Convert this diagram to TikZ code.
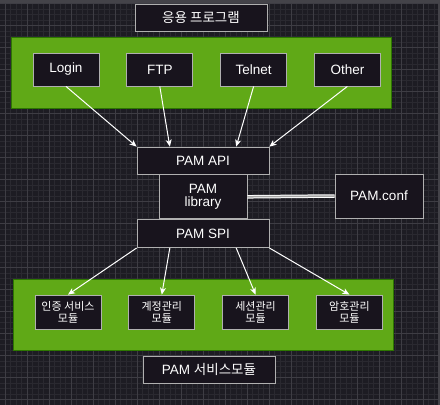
\documentclass[tikz,border=0pt]{standalone}
\usepackage{fontspec}
\setmainfont{Liberation Sans}
\newfontfamily\kr{Noto Sans CJK KR}
\usepackage{tikz}
\usetikzlibrary{positioning,calc,arrows.meta}

\definecolor{bgdark}{HTML}{1D1C23}
\definecolor{boxdark}{HTML}{18141D}
\definecolor{gridminor}{HTML}{2A2930}
\definecolor{gridmajor}{HTML}{3E3D44}
\definecolor{appgreen}{HTML}{60A917}
\definecolor{appgreenline}{HTML}{2D7600}
\definecolor{boxline}{HTML}{B0B0B0}

\begin{document}
\begin{tikzpicture}[
    x=1pt, y=-1pt,
    node distance=27pt,
    box/.style={rectangle, draw=boxline, line width=0.8pt, fill=boxdark, text=white, inner sep=0pt, align=center, font=\fontsize{13.5}{14.5}\selectfont},
    appbox/.style={box, minimum width=66pt, minimum height=33pt},
    modbox/.style={box, minimum width=66pt, minimum height=34pt, font=\kr\fontsize{11}{12}\selectfont},
    group/.style={rectangle, draw=appgreenline, line width=0.8pt, fill=appgreen, inner sep=0pt},
    arrow/.style={-{Stealth[length=7pt, width=6pt, inset=2pt]}, draw=white, line width=1pt}
]
\useasboundingbox (0,0) rectangle (440,405);

% Background and grid
\fill[bgdark] (0,0) rectangle (440,405);
\foreach \i in {0,...,80} {
  \draw[gridminor, line width=0.4pt] (-0.5+5.5*\i,3) -- (-0.5+5.5*\i,405);
}
\foreach \i in {0,...,73} {
  \draw[gridminor, line width=0.4pt] (0,3.5+5.5*\i) -- (438,3.5+5.5*\i);
}
\foreach \i in {0,...,19} {
  \draw[gridmajor, line width=0.5pt] (5+22*\i,3) -- (5+22*\i,405);
}
\foreach \i in {0,...,18} {
  \draw[gridmajor, line width=0.5pt] (0,3+22*\i) -- (438,3+22*\i);
}
\fill[gridminor!80!white!70!bgdark] (0,0) rectangle (440,3);
\fill[gridminor!80!white!70!bgdark] (438,0) rectangle (440,405);

% Top - application programs
\node[box, minimum width=132pt, minimum height=27pt, font=\kr\fontsize{13.5}{14.5}\selectfont] (apptitle) at (201,17.5) {응용 프로그램};
\node[group, minimum width=380pt, minimum height=71pt] (apps) at (201,72.5) {};

\node[appbox] (login) at (66,69.5) {Login};
\node[appbox, right=of login] (ftp) {FTP};
\node[appbox, right=of ftp] (telnet) {Telnet};
\node[appbox, right=of telnet] (other) {Other};

% Middle - PAM stack
\node[box, minimum width=132pt, minimum height=27pt] (api) at (203,160.5) {PAM API};
\node[box, minimum width=88pt, minimum height=44pt, below=0pt of api, font=\fontsize{13.5}{14}\selectfont] (library) {PAM\\[-1pt]library};
\node[box, minimum width=132pt, minimum height=28pt, below=0pt of library] (spi) {PAM SPI};
\node[box, minimum width=88pt, minimum height=44pt] (conf) at (379,196) {PAM.conf};

% Bottom - service modules
\node[group, minimum width=380pt, minimum height=71pt] (modules) at (203,314.5) {};

\node[modbox] (auth) at (68,312) {인증 서비스\\모듈};
\node[modbox, right=of auth] (account) {계정관리\\모듈};
\node[modbox, right=of account] (session) {세션관리\\모듈};
\node[modbox, right=of session] (password) {암호관리\\모듈};

\node[box, minimum width=132pt, minimum height=27pt] (modtitle) at (209,369.5) {PAM {\kr 서비스모듈}};

% Connections
\draw[arrow] (login.south) -- (api.north west);
\draw[arrow] (ftp.south) -- ($(api.north west)!0.25!(api.north east)$);
\draw[arrow] (telnet.south) -- ($(api.north west)!0.75!(api.north east)$);
\draw[arrow] (other.south) -- (api.north east);

\draw[arrow] (spi.south west) -- (auth.north);
\draw[arrow] ($(spi.south west)!0.25!(spi.south east)$) -- (account.north);
\draw[arrow] ($(spi.south west)!0.75!(spi.south east)$) -- (session.north);
\draw[arrow] (spi.south east) -- (password.north);

\draw[white, line width=1pt, double=gray!70, double distance=1.5pt] (library.east) -- (conf.west);

\end{tikzpicture}
\end{document}
